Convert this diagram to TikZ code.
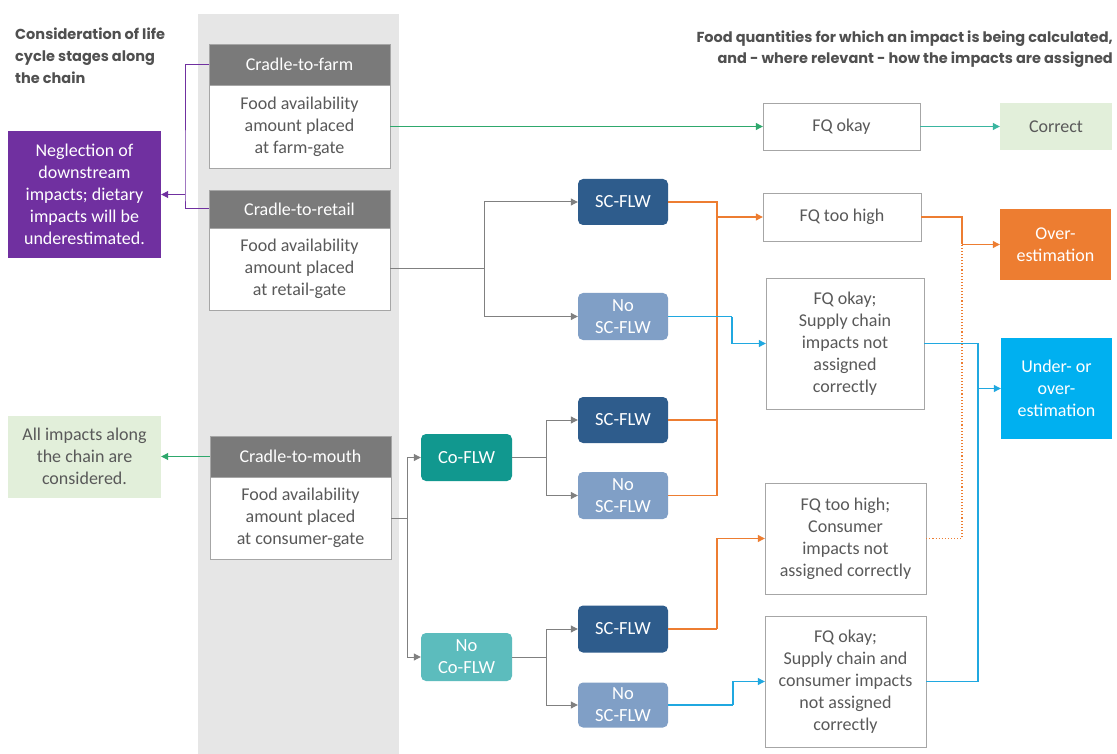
\documentclass[tikz,border=0pt]{standalone}
\usepackage{fontspec}
\setmainfont{Carlito}
\newfontfamily\hfont{Poppins}
\usetikzlibrary{arrows.meta,calc}
\definecolor{band}{HTML}{E6E6E6}
\definecolor{hdrgray}{HTML}{7A7A7A}
\definecolor{txtgray}{HTML}{595959}
\definecolor{boxline}{HTML}{A6A6A6}
\definecolor{darkblue}{HTML}{2E5C8C}
\definecolor{paleblue}{HTML}{809FC6}
\definecolor{tealA}{HTML}{11988F}
\definecolor{tealB}{HTML}{5CBCBD}
\definecolor{purp}{HTML}{7030A0}
\definecolor{orng}{HTML}{ED7D31}
\definecolor{cyanbox}{HTML}{00B0F0}
\definecolor{cyanline}{HTML}{20A8E0}
\definecolor{lgreen}{HTML}{E2EFDA}
\definecolor{gline}{HTML}{2EA86C}
\definecolor{gline2}{HTML}{3AB5A0}
\definecolor{conngray}{HTML}{808080}
\definecolor{headtxt}{HTML}{505050}
\tikzset{
  tip/.style={-{Triangle[width=7pt,length=7pt]}},
  bodyfont/.style={font=\fontsize{18}{22}\selectfont},
  stagehdr/.style={draw=boxline,fill=hdrgray,text=white,minimum width=181pt,inner sep=0pt,bodyfont},
  stagebody/.style={draw=boxline,fill=white,text=txtgray,minimum width=181pt,inner sep=0pt,align=center,bodyfont},
  fqbox/.style={draw=boxline,fill=white,text=txtgray,inner sep=0pt,align=center,bodyfont},
  flw/.style={rounded corners=5pt,text=white,minimum width=90pt,inner sep=0pt,align=center,font=\fontsize{18.5}{22}\selectfont},
  resbox/.style={inner sep=0pt,align=center,bodyfont},
  gconn/.style={draw=conngray,line width=1pt},
  oconn/.style={draw=orng,line width=1.1pt},
  bconn/.style={draw=cyanline,line width=1.1pt},
}
\begin{document}
\begin{tikzpicture}[x=1pt,y=-1pt]
\useasboundingbox (0,0) rectangle (1117,754);
\fill[white] (0,0) rectangle (1117,754);
\fill[band] (198,14) rectangle (399,754);

% headers
\node[anchor=north west,align=left,text=headtxt,font=\hfont\bfseries\fontsize{14.5}{22}\selectfont,inner sep=0pt] (hl) at (15,28) {Consideration of life\\cycle stages along\\the chain};
\node[anchor=north east,align=right,text=headtxt,font=\hfont\bfseries\fontsize{14.5}{20.5}\selectfont,inner sep=0pt] (hr) at (1113,31) {Food quantities for which an impact is being calculated,\\and - where relevant - how the impacts are assigned};

% stage boxes
\node[stagehdr,minimum height=41pt] (farmH) at (299.5,64.5) {Cradle-to-farm};
\node[stagebody,minimum height=83pt] (farmB) at (299.5,126.5) {Food availability\\amount placed\\at farm-gate};
\node[stagehdr,minimum height=38pt] (retH) at (299.5,209) {Cradle-to-retail};
\node[stagebody,minimum height=82pt] (retB) at (299.5,269) {Food availability\\amount placed\\at retail-gate};
\node[stagehdr,minimum height=41pt] (mouthH) at (300.5,456.5) {Cradle-to-mouth};
\node[stagebody,minimum height=82pt] (mouthB) at (300.5,518) {Food availability\\amount placed\\at consumer-gate};

% left result boxes
\node[resbox,fill=purp,text=white,minimum width=153pt,minimum height=127pt] (neg) at (84.5,194.5) {Neglection of\\downstream\\impacts; dietary\\impacts will be\\underestimated.};
\node[resbox,fill=lgreen,text=txtgray,minimum width=153pt,minimum height=82pt] (allimp) at (84.5,456.5) {All impacts along\\the chain are\\considered.};

% FLW nodes
\node[flw,fill=darkblue,minimum height=46pt] (sc1) at (623,202) {SC-FLW};
\node[flw,fill=paleblue,minimum height=47pt] (nsc1) at (623,316.5) {No\\SC-FLW};
\node[flw,fill=darkblue,minimum height=46pt] (sc2) at (623,420) {SC-FLW};
\node[flw,fill=paleblue,minimum height=47pt] (nsc2) at (623,495.5) {No\\SC-FLW};
\node[flw,fill=darkblue,minimum height=47pt] (sc3) at (623,629) {SC-FLW};
\node[flw,fill=paleblue,minimum height=45pt] (nsc3) at (623,705) {No\\SC-FLW};
\node[flw,fill=tealA,minimum width=91pt,minimum height=47pt] (co) at (466.5,457.5) {Co-FLW};
\node[flw,fill=tealB,minimum width=91pt,minimum height=48pt] (nco) at (466.5,657) {No\\Co-FLW};

% FQ boxes
\node[fqbox,minimum width=157pt,minimum height=47pt] (fqok) at (841.5,126.5) {FQ okay};
\node[fqbox,minimum width=158pt,minimum height=48pt] (fqhigh) at (842,217) {FQ too high};
\node[fqbox,minimum width=158pt,minimum height=131pt] (fqsc) at (845,343.5) {FQ okay;\\Supply chain\\impacts not\\assigned\\correctly};
\node[fqbox,minimum width=161pt,minimum height=111pt] (fqcons) at (845.5,538.5) {FQ too high;\\Consumer\\impacts not\\assigned correctly};
\node[fqbox,minimum width=161pt,minimum height=131pt] (fqscc) at (845.5,681.5) {FQ okay;\\Supply chain and\\consumer impacts\\not assigned\\correctly};

% right result boxes
\node[resbox,fill=lgreen,text=txtgray,minimum width=112pt,minimum height=47pt] (correct) at (1056,126.5) {Correct};
\node[resbox,fill=orng,text=white,minimum width=111pt,minimum height=71pt] (over) at (1055.5,244.5) {Over-\\estimation};
\node[resbox,fill=cyanbox,text=white,minimum width=111pt,minimum height=101pt] (under) at (1056.5,388.5) {Under- or\\over-\\estimation};

% junction coordinates
\coordinate (pj) at (185,194.5);
\coordinate (rj) at (484,269);
\coordinate (mj) at (407,518);
\coordinate (cj) at (546,457.5);
\coordinate (nj) at (546,657);
\coordinate (oj) at (717,217);
\coordinate (oj3) at (717,629);
\coordinate (bj1) at (732,316.5);
\coordinate (bj3) at (733,705);
\coordinate (ovj) at (962,244.5);
\coordinate (uj) at (978,388.5);

% purple connectors
\draw[draw=purp,line width=1pt] (farmH.west) -| (pj) |- (retH.west);
\draw[draw=purp,line width=1pt,tip] (pj) -- (neg.east);
% green connectors
\draw[draw=gline,line width=1pt,tip] (farmB.east) -- (fqok.west);
\draw[draw=gline2,line width=1pt,tip] (fqok.east) -- (correct.west);
\draw[draw=gline,line width=1pt,tip] (mouthH.west) -- (allimp.east);

% gray connectors
\draw[gconn] (retB.east) -- (rj);
\draw[gconn,tip] (rj) |- (sc1.west);
\draw[gconn,tip] (rj) |- (nsc1.west);
\draw[gconn] (mouthB.east) -- (mj);
\draw[gconn,tip] (mj) |- (co.west);
\draw[gconn,tip] (mj) |- (nco.west);
\draw[gconn] (co.east) -- (cj);
\draw[gconn,tip] (cj) |- (sc2.west);
\draw[gconn,tip] (cj) |- (nsc2.west);
\draw[gconn] (nco.east) -- (nj);
\draw[gconn,tip] (nj) |- (sc3.west);
\draw[gconn,tip] (nj) |- (nsc3.west);

% orange connectors
\draw[oconn] (sc1.east) -| (oj) |- (nsc2.east);
\draw[oconn] (sc2.east) -| (oj);
\draw[oconn,tip] (oj) -- (fqhigh.west);
\draw[oconn] (fqhigh.east) -| (ovj);
\draw[oconn,tip] (ovj) -- (over.west);
\draw[oconn,dotted] (fqcons.east) -| (ovj);
\draw[oconn] (sc3.east) -- (oj3);
\draw[oconn,tip] (oj3) |- (fqcons.west);

% blue connectors
\draw[bconn] (nsc1.east) -- (bj1);
\draw[bconn,tip] (bj1) |- (fqsc.west);
\draw[bconn] (fqsc.east) -| (uj) |- (fqscc.east);
\draw[bconn,tip] (uj) -- (under.west);
\draw[bconn] (nsc3.east) -- (bj3);
\draw[bconn,tip] (bj3) |- (fqscc.west);
\end{tikzpicture}
\end{document}
